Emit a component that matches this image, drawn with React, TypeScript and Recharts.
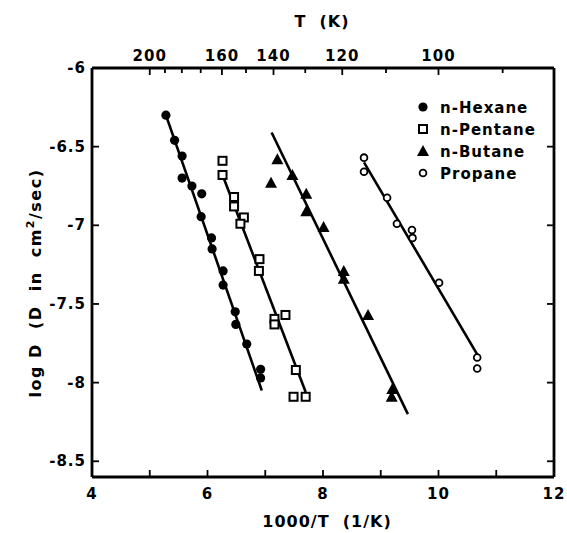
import React from "react";
import { ScatterChart, Scatter, XAxis, YAxis, Label } from "recharts";

// measured points: [1000/T, log D]
const hexane: [number, number][] = [
  [5.28, -6.3], [5.43, -6.46], [5.56, -6.56], [5.56, -6.7], [5.73, -6.75],
  [5.9, -6.8], [5.89, -6.945], [6.07, -7.08], [6.08, -7.15], [6.27, -7.29],
  [6.27, -7.38], [6.48, -7.55], [6.49, -7.63], [6.68, -7.755], [6.92, -7.915],
  [6.92, -7.97],
];
const pentane: [number, number][] = [
  [6.26, -6.59], [6.26, -6.68], [6.46, -6.82], [6.46, -6.88], [6.63, -6.95],
  [6.57, -6.99], [6.9, -7.215], [6.89, -7.29], [7.16, -7.595], [7.35, -7.57],
  [7.16, -7.63], [7.53, -7.92], [7.49, -8.09], [7.7, -8.09],
];
const butane: [number, number][] = [
  [7.21, -6.58], [7.1, -6.73], [7.47, -6.68], [7.71, -6.8], [7.71, -6.91],
  [8.01, -7.01], [8.36, -7.29], [8.36, -7.34], [8.78, -7.57], [9.2, -8.04],
  [9.19, -8.09],
];
const propane: [number, number][] = [
  [8.71, -6.57], [8.71, -6.66], [9.11, -6.825], [9.28, -6.99], [9.54, -7.03],
  [9.55, -7.08], [10.01, -7.365], [10.67, -7.84], [10.67, -7.91],
];

// fitted lines (end points)
const hexaneFit: [number, number][] = [[5.28, -6.3], [6.94, -8.05]];
const pentaneFit: [number, number][] = [[6.26, -6.68], [7.7, -8.06]];
const butaneFit: [number, number][] = [[7.11, -6.41], [9.47, -8.2]];
const propaneFit: [number, number][] = [[8.71, -6.6], [10.67, -7.82]];

const xTicks = [4, 5, 6, 7, 8, 9, 10, 11, 12];
const xLabels = [4, 6, 8, 10, 12];
const yTicks = [-6, -6.5, -7, -7.5, -8, -8.5];
const tempTicks = [200, 190, 180, 170, 160, 150, 140, 130, 120, 110, 100, 90];
const tempLabels = [200, 160, 140, 120, 100];
const seriesNames = ["n-Hexane", "n-Pentane", "n-Butane", "Propane"];

// chart sits at the page origin, so these are page pixels
const W = 567;
const H = 533;
const LEFT = 92;
const RIGHT = 13;
const TOP = 68;
const BOTTOM = 56;

const FONT = "'DejaVu Sans', 'Liberation Sans', Arial, sans-serif";
const txt = {
  fontFamily: FONT,
  fontWeight: 700,
  fontSize: 15,
  letterSpacing: 1,
  fill: "#000",
} as const;
const title = { ...txt, fontSize: 16, whiteSpace: "pre" } as const;

const toPts = (arr: [number, number][]) => arr.map(([x, y]) => ({ x, y }));

const Dot = ({ cx, cy }: any) => <circle cx={cx} cy={cy} r={4.6} fill="#000" />;
const Square = ({ cx, cy }: any) => (
  <rect x={cx - 4} y={cy - 4} width={8} height={8} fill="#fff" stroke="#000" strokeWidth={2} />
);
const Tri = ({ cx, cy }: any) => (
  <polygon points={`${cx},${cy - 6} ${cx - 6},${cy + 5} ${cx + 6},${cy + 5}`} fill="#000" />
);
const Ring = ({ cx, cy }: any) => (
  <circle cx={cx} cy={cy} r={3.4} fill="#fff" stroke="#000" strokeWidth={1.8} />
);
const NoShape = () => <g />;

const BottomTick = ({ x, y, payload }: any) => {
  const v = payload.value;
  const show = xLabels.includes(v);
  return (
    <g>
      <line x1={x} y1={y} x2={x} y2={y - 7} stroke="#000" strokeWidth={1.8} />
      {show && (
        <text x={x} y={y + 22} textAnchor="middle" style={txt}>
          {v}
        </text>
      )}
    </g>
  );
};

const TopTick = ({ x, y, payload }: any) => {
  const t = Math.round(1000 / payload.value);
  const show = tempLabels.includes(t);
  return (
    <g>
      <line x1={x} y1={y} x2={x} y2={y + (show ? 7 : 5)} stroke="#000" strokeWidth={1.8} />
      {show && (
        <text x={x} y={y - 7} textAnchor="middle" style={txt}>
          {t}
        </text>
      )}
    </g>
  );
};

const LeftTick = ({ x, y, payload }: any) => (
  <g>
    <line x1={x} y1={y} x2={x + 7} y2={y} stroke="#000" strokeWidth={1.8} />
    <text x={x - 6} y={y + 5} textAnchor="end" style={txt}>
      {payload.value}
    </text>
  </g>
);

const RightTick = ({ x, y }: any) => (
  <line x1={x} y1={y} x2={x - 7} y2={y} stroke="#000" strokeWidth={1.8} />
);

const YTitle = () => (
  <text
    transform="translate(41, 283) rotate(-90)"
    textAnchor="middle"
    style={{ ...title, letterSpacing: 1.5 }}
  >
    {"log D  (D  in  cm"}
    <tspan dy={-7} fontSize={11}>2</tspan>
    <tspan dy={7}>/sec)</tspan>
  </text>
);

const TopTitle = () => (
  <text x={322} y={27} textAnchor="middle" style={title}>
    {"T  (K)"}
  </text>
);

const BottomTitle = () => (
  <text x={327} y={527} textAnchor="middle" style={title}>
    {"1000/T  (1/K)"}
  </text>
);

const markers = [Dot, Square, Tri, Ring];

// legend drawn inside the svg so it takes no room from the plot
const LegendBox = () => (
  <g>
    {seriesNames.map((name, i) => {
      const M = markers[i];
      const cy = 107 + i * 22;
      return (
        <g key={name}>
          <M cx={423} cy={cy} />
          <text x={440} y={cy + 5.5} style={txt}>
            {name}
          </text>
        </g>
      );
    })}
  </g>
);

export default function App() {
  const fits = [hexaneFit, pentaneFit, butaneFit, propaneFit];
  return (
    <div style={{ position: "absolute", left: 0, top: 0, width: W, height: H }}>
      <ScatterChart width={W} height={H} margin={{ top: 0, right: 0, bottom: 0, left: 0 }}>
        <XAxis
          xAxisId="bottom"
          dataKey="x"
          type="number"
          domain={[4, 12]}
          ticks={xTicks}
          interval={0}
          height={BOTTOM}
          tickSize={0}
          tickMargin={0}
          tickLine={false}
          axisLine={{ stroke: "#000", strokeWidth: 2.8 }}
          tick={(p: any) => <BottomTick {...p} />}
          label={<Label content={BottomTitle} />}
        />
        <XAxis
          xAxisId="top"
          orientation="top"
          dataKey="x"
          type="number"
          domain={[4, 12]}
          ticks={tempTicks.map((t) => 1000 / t)}
          interval={0}
          height={TOP}
          tickSize={0}
          tickMargin={0}
          tickLine={false}
          axisLine={{ stroke: "#000", strokeWidth: 2.8 }}
          tick={(p: any) => <TopTick {...p} />}
          label={<Label content={TopTitle} />}
        />
        <YAxis
          yAxisId="left"
          dataKey="y"
          type="number"
          domain={[-8.6, -6]}
          ticks={yTicks}
          interval={0}
          width={LEFT}
          tickSize={0}
          tickMargin={0}
          tickLine={false}
          axisLine={{ stroke: "#000", strokeWidth: 2.8 }}
          tick={(p: any) => <LeftTick {...p} />}
          label={<Label content={YTitle} />}
        />
        <YAxis
          yAxisId="right"
          orientation="right"
          dataKey="y"
          type="number"
          domain={[-8.6, -6]}
          ticks={yTicks}
          interval={0}
          width={RIGHT}
          tickSize={0}
          tickMargin={0}
          tickLine={false}
          axisLine={{ stroke: "#000", strokeWidth: 2.8 }}
          tick={(p: any) => <RightTick {...p} />}
          label={<Label content={LegendBox} />}
        />
        {/* hidden series so the top / right axes have data */}
        <Scatter
          xAxisId="top"
          yAxisId="right"
          data={toPts(hexaneFit)}
          shape={NoShape}
          legendType="none"
          isAnimationActive={false}
        />
        {fits.map((fit, i) => (
          <Scatter
            key={`fit-${i}`}
            xAxisId="bottom"
            yAxisId="left"
            data={toPts(fit)}
            line={{ stroke: "#000", strokeWidth: 2.6 }}
            shape={NoShape}
            legendType="none"
            isAnimationActive={false}
          />
        ))}
        {[hexane, pentane, butane, propane].map((s, i) => (
          <Scatter
            key={seriesNames[i]}
            name={seriesNames[i]}
            xAxisId="bottom"
            yAxisId="left"
            data={toPts(s)}
            shape={markers[i]}
            isAnimationActive={false}
          />
        ))}
      </ScatterChart>
    </div>
  );
}
